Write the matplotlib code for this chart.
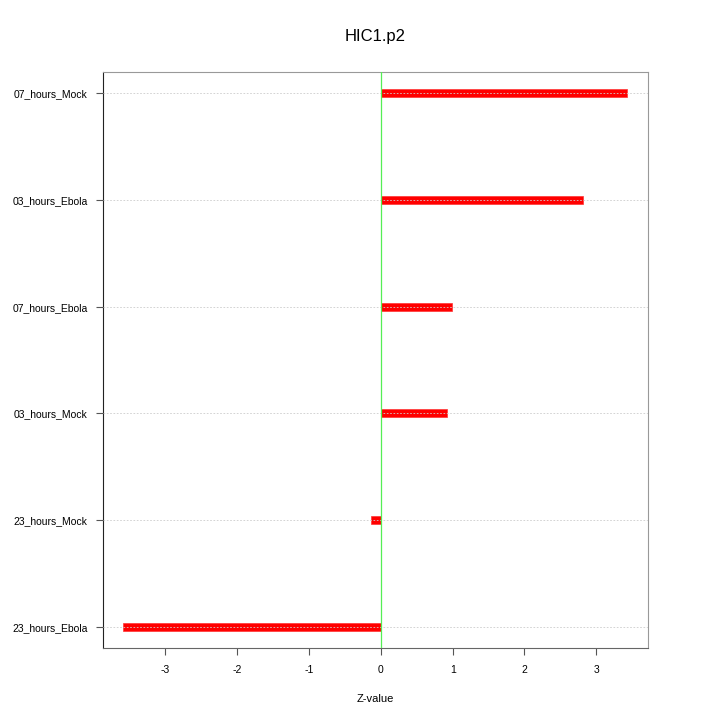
import matplotlib
matplotlib.use("Agg")
import matplotlib.pyplot as plt

plt.rcParams['font.family'] = ['Liberation Sans', 'DejaVu Sans']

categories = ["23_hours_Ebola", "23_hours_Mock", "03_hours_Mock",
              "07_hours_Ebola", "03_hours_Ebola", "07_hours_Mock"]
values = [-3.59, -0.14, 0.92, 0.99, 2.81, 3.43]
xticks = [-3, -2, -1, 0, 1, 2, 3]

fig = plt.figure(figsize=(7.2, 7.2), dpi=100)
ax = fig.add_axes([0.143, 0.1, 0.757, 0.8])

ypos = list(range(len(categories)))
for y in ypos:
    ax.axhline(y, color="#cccccc", linestyle=(0, (2, 2)), linewidth=0.6, zorder=3)
ax.barh(ypos, values, height=0.075, color="#ff0000", edgecolor="#ff3333", linewidth=0.5, zorder=2)
ax.axvline(0, color="#55ee55", linewidth=0.9, zorder=4)

ax.set_xlim(-3.87, 3.72)
ax.set_ylim(-0.2, 5.2)
ax.set_yticks(ypos)
ax.set_yticklabels(categories, fontsize=7.5)
ax.set_xticks(xticks)
ax.set_xticklabels([str(t) for t in xticks], fontsize=7.5)
ax.tick_params(axis='both', length=5, color="#555555", pad=6)
ax.tick_params(axis='x', pad=7)
ax.set_xlabel("Z-value", fontsize=8, labelpad=14)
ax.set_title("HIC1.p2", fontsize=12, pad=22)

ax.spines['top'].set_color("#999999")
ax.spines['right'].set_color("#999999")
ax.spines['left'].set_color("#222222")
ax.spines['bottom'].set_color("#666666")

fig.savefig("out.png", dpi=100)
